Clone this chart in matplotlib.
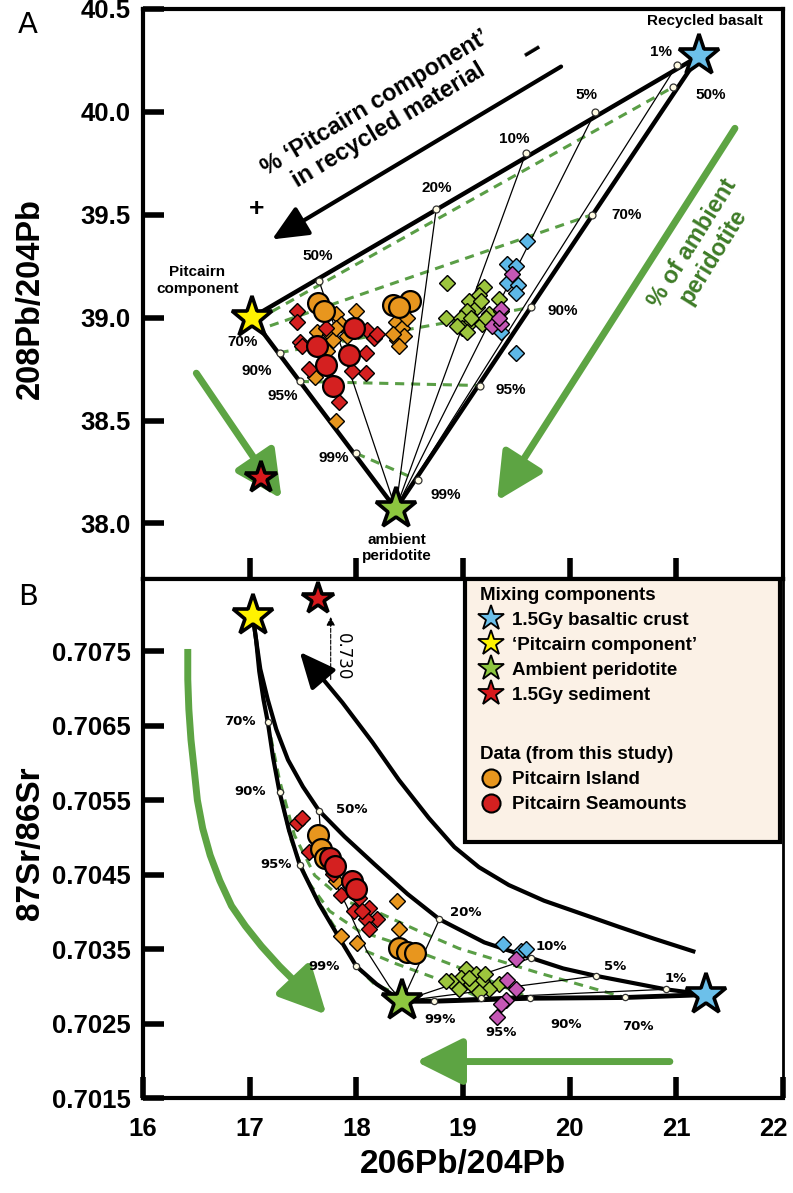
import matplotlib
matplotlib.use('Agg')
import matplotlib.pyplot as plt
from matplotlib.lines import Line2D
from matplotlib.patches import Rectangle
from matplotlib.transforms import ScaledTranslation

plt.rcParams['font.family'] = ['Liberation Sans', 'DejaVu Sans']
plt.rcParams['font.weight'] = 'bold'

# colours
c_orange = '#e8961e'
c_red = '#d42020'
c_lime = '#9dc53d'
c_blue = '#5db8e8'
c_mag = '#c557b5'
c_arrow = '#5da443'
c_dash = '#5a9e46'
c_gtext = '#3e7b27'

# end members: recycled basalt, Pitcairn component, ambient peridotite, sediment
end_names = ['1.5Gy basaltic crust', '\u2018Pitcairn component\u2019', 'Ambient peridotite', '1.5Gy sediment']
end_colors = ['#6cc0ea', '#fff200', '#8dc63f', '#d7191c']

# ---------------- panel A: 208Pb/204Pb ----------------
endA_x = [21.21, 17.02, 18.37, 17.11]
endA_y = [40.27, 39.00, 38.07, 38.22]

# ticks on Pitcairn - basalt line (50, 20, 10, 5, 1 %)
topA_x = [17.65, 18.75, 19.59, 20.24, 21.01]
topA_y = [39.18, 39.53, 39.80, 40.00, 40.23]
# ticks on Pitcairn - peridotite line (90, 95, 99 %)
leftA_x = [17.28, 17.47, 18.00]
leftA_y = [38.83, 38.69, 38.34]
# ticks on basalt - peridotite line (50, 70, 90, 95, 99 %)
rightA_x = [20.97, 20.21, 19.64, 19.16, 18.58]
rightA_y = [40.12, 39.50, 39.05, 38.67, 38.21]
# iso-peridotite dashed lines, left end -> right end
dashA_x0 = [17.21, 17.19, 17.28, 17.47, 18.00]
dashA_y0 = [39.03, 38.96, 38.83, 38.69, 38.34]
dashA_x1 = [20.97, 20.21, 19.64, 19.16, 18.58]
dashA_y1 = [40.12, 39.50, 39.05, 38.67, 38.21]

# data, panel A
A_isl_circ_x = [17.64, 17.70, 18.34, 18.50, 18.40]
A_isl_circ_y = [39.07, 39.03, 39.06, 39.08, 39.05]
A_smt_circ_x = [17.98, 17.63, 17.72, 17.93, 17.78]
A_smt_circ_y = [38.95, 38.86, 38.77, 38.82, 38.67]
A_isl_dia_x = [18.00, 17.81, 17.86, 17.63, 17.75, 17.78, 17.73, 17.61, 17.91, 17.81,
               18.37, 18.43, 18.38, 18.45, 18.40, 18.34, 18.48, 17.81]
A_isl_dia_y = [39.03, 39.02, 38.97, 38.93, 38.92, 38.89, 38.84, 38.71, 38.91, 38.95,
               38.98, 38.95, 38.89, 38.91, 38.86, 38.92, 39.00, 38.50]
A_smt_dia_x = [17.44, 17.44, 17.47, 17.72, 17.56, 18.10, 18.17, 18.09, 18.09, 17.96, 17.84, 18.19, 17.49]
A_smt_dia_y = [39.03, 38.98, 38.88, 38.95, 38.75, 38.94, 38.90, 38.83, 38.73, 38.74, 38.59, 38.92, 38.86]
A_lime_x = [18.85, 18.84, 19.20, 19.15, 19.06, 19.13, 19.04, 18.98, 19.06, 18.99,
            19.04, 19.18, 19.24, 19.34, 19.36, 19.17, 19.08, 18.94, 19.22]
A_lime_y = [39.17, 39.00, 39.15, 39.11, 39.08, 39.05, 39.03, 39.00, 38.97, 38.95,
            38.93, 38.97, 39.02, 39.09, 39.03, 39.08, 39.00, 38.96, 39.00]
A_blue_x = [19.60, 19.41, 19.50, 19.41, 19.52, 19.50, 19.36, 19.50]
A_blue_y = [39.37, 39.26, 39.25, 39.17, 39.16, 39.12, 38.93, 38.83]
A_mag_x = [19.46, 19.36, 19.27, 19.36, 19.34]
A_mag_y = [39.21, 39.04, 38.96, 38.97, 39.00]

# ---------------- panel B: 87Sr/86Sr ----------------
endB_x = [21.28, 17.03, 18.43, 17.64]
endB_y = [0.70289, 0.70797, 0.70280, 0.70820]

# Pitcairn - peridotite curve
curB_left_x = [17.03, 17.06, 17.09, 17.13, 17.17, 17.22, 17.28, 17.37, 17.47, 17.65, 17.84, 18.00, 18.19, 18.43]
curB_left_y = [0.70797, 0.70766, 0.70723, 0.70685, 0.70655, 0.70607, 0.70561, 0.70509, 0.70463,
               0.70411, 0.70365, 0.70327, 0.70303, 0.70280]
# Pitcairn - basalt curve
curB_mid_x = [17.03, 17.06, 17.10, 17.17, 17.25, 17.36, 17.50, 17.65, 17.89, 18.17, 18.48, 18.78,
              19.20, 19.64, 19.94, 20.25, 20.90, 21.28]
curB_mid_y = [0.70797, 0.70766, 0.70726, 0.70685, 0.70645, 0.70604, 0.70568, 0.70536, 0.70501,
              0.70464, 0.70424, 0.70390, 0.70359, 0.70338, 0.70324, 0.70314, 0.70296, 0.70289]
# peridotite - basalt curve
curB_bot_x = [18.43, 18.73, 19.17, 19.63, 20.52, 21.11, 21.28]
curB_bot_y = [0.70280, 0.70280, 0.70282, 0.70284, 0.70285, 0.70288, 0.70289]
# sediment mixing curve (arrow towards sediment)
curB_sed_x = [17.47, 17.65, 17.87, 18.15, 18.40, 18.68, 18.92, 19.15, 19.43, 19.76, 20.08, 20.46, 20.79, 21.16]
curB_sed_y = [0.70749, 0.70719, 0.70681, 0.70628, 0.70577, 0.70526, 0.70487, 0.70460, 0.70436,
              0.70415, 0.70399, 0.70380, 0.70364, 0.70347]
# thin curve peridotite -> 50 %
curB_thin_x = [17.65, 17.67, 17.77, 17.91, 18.10, 18.31, 18.43]
curB_thin_y = [0.70536, 0.70496, 0.70449, 0.70408, 0.70347, 0.70300, 0.70280]

# ticks
midB_x = [17.65, 18.78, 19.64, 20.25, 20.90]            # 50, 20, 10, 5, 1 %
midB_y = [0.70536, 0.70390, 0.70338, 0.70314, 0.70296]
leftB_x = [17.17, 17.28, 17.47, 18.00]                   # 70, 90, 95, 99 %
leftB_y = [0.70655, 0.70561, 0.70463, 0.70327]
botB_x = [18.73, 19.17, 19.63, 20.52]                    # 99, 95, 90, 70 %
botB_y = [0.70280, 0.70284, 0.70284, 0.70285]

# dashed iso-peridotite curves
dB70_x = [17.17, 17.28, 17.42, 17.61, 17.89, 18.21, 18.59, 18.96, 19.71, 20.52]
dB70_y = [0.70655, 0.70577, 0.70503, 0.70449, 0.70415, 0.70399, 0.70374, 0.70351, 0.70318, 0.70285]
dB90_x = [17.28, 17.39, 17.54, 17.75, 18.03, 18.31, 18.68, 19.06, 19.63]
dB90_y = [0.70561, 0.70496, 0.70442, 0.70401, 0.70374, 0.70361, 0.70341, 0.70320, 0.70284]
dB95_x = [17.47, 17.61, 17.79, 18.03, 18.36, 18.78, 19.17]
dB95_y = [0.70464, 0.70422, 0.70381, 0.70351, 0.70331, 0.70309, 0.70284]
dB99_x = [18.00, 18.17, 18.40, 18.73]
dB99_y = [0.70327, 0.70303, 0.70289, 0.70280]

# data, panel B
B_isl_circ_x = [17.64, 17.67, 17.71, 18.40, 18.48, 18.55]
B_isl_circ_y = [0.70503, 0.70485, 0.70472, 0.70351, 0.70346, 0.70345]
B_smt_circ_x = [17.75, 17.80, 17.96, 18.00]
B_smt_circ_y = [0.70472, 0.70461, 0.70442, 0.70431]
B_smt_dia_x = [17.44, 17.49, 17.56, 17.78, 17.86, 17.98, 18.03, 18.12, 18.19, 18.09, 18.12, 18.05]
B_smt_dia_y = [0.70519, 0.70526, 0.70480, 0.70451, 0.70422, 0.70401, 0.70418, 0.70405, 0.70391,
               0.70391, 0.70377, 0.70401]
B_isl_dia_x = [18.38, 18.40, 17.86, 18.01, 17.81]
B_isl_dia_y = [0.70415, 0.70377, 0.70368, 0.70358, 0.70442]
B_lime_x = [19.03, 18.98, 18.89, 19.12, 19.18, 19.21, 19.08, 19.34, 19.24, 19.15, 18.96, 19.06, 18.84]
B_lime_y = [0.70323, 0.70311, 0.70307, 0.70316, 0.70307, 0.70316, 0.70303, 0.70303, 0.70296,
            0.70293, 0.70297, 0.70311, 0.70307]
B_blue_x = [19.38, 19.54, 19.59]
B_blue_y = [0.70357, 0.70347, 0.70350]
B_mag_x = [19.50, 19.41, 19.50, 19.40, 19.36, 19.32]
B_mag_y = [0.70337, 0.70309, 0.70296, 0.70282, 0.70276, 0.70259]

# green guide arrow in panel B (curved)
arr_x = [16.42, 16.42, 16.43, 16.45, 16.48, 16.51, 16.56, 16.63, 16.72, 16.83, 16.96, 17.11, 17.28, 17.47, 17.72]
arr_y = [0.70753, 0.70712, 0.70672, 0.70631, 0.70591, 0.70550, 0.70512, 0.70476, 0.70442, 0.70408,
         0.70381, 0.70354, 0.70327, 0.70300, 0.70262]


def diamonds(ax, x, y, color, ms=8.5):
    ax.plot(x, y, 'D', ms=ms, mfc=color, mec='black', mew=1.0, ls='none', zorder=4)


def circles(ax, x, y, color, ms=14):
    ax.plot(x, y, 'o', ms=ms, mfc=color, mec='black', mew=1.6, ls='none', zorder=5)


def ticks(ax, x, y, ms=5):
    ax.plot(x, y, 'o', ms=ms, mfc='#fffbe3', mec='#333333', mew=0.9, ls='none', zorder=6)


def green_arrow(ax, xy0, xy1, lw=5, scale=22):
    ax.annotate('', xy=xy1, xytext=xy0,
                arrowprops=dict(arrowstyle='-|>,head_length=1.3,head_width=0.65', lw=lw,
                                color=c_arrow, shrinkA=0, shrinkB=0, mutation_scale=scale),
                zorder=3)


fig = plt.figure(figsize=(7.93, 11.93), dpi=100)
axA = fig.add_axes([0.1803, 0.5147, 0.807, 0.4778])
axB = fig.add_axes([0.1803, 0.0796, 0.807, 0.4351])

for ax in (axA, axB):
    for s in ax.spines.values():
        s.set_linewidth(3)
    ax.set_xlim(16, 22)
    ax.tick_params(direction='in', length=15, width=4, labelsize=18.5, pad=9)

# ----- panel A drawing -----
axA.set_ylim(37.73, 40.5)
axA.set_yticks([38.0, 38.5, 39.0, 39.5, 40.0, 40.5])
axA.set_yticklabels(['38.0', '38.5', '39.0', '39.5', '40.0', '40.5'])
axA.set_xticks([17, 18, 19, 20, 21])
axA.tick_params(axis='x', labelbottom=False)

# dashed iso lines
for i in range(len(dashA_x0)):
    axA.plot([dashA_x0[i], dashA_x1[i]], [dashA_y0[i], dashA_y1[i]], color=c_dash,
             lw=2.2, dashes=(3, 2.2), zorder=2)
# thin lines peridotite -> top ticks
for i in range(len(topA_x)):
    axA.plot([endA_x[2], topA_x[i]], [endA_y[2], topA_y[i]], color='black', lw=0.9, zorder=2)
# thick triangle
bas, pit, per = 0, 1, 2
for a, b in [(pit, bas), (pit, per), (bas, per)]:
    axA.plot([endA_x[a], endA_x[b]], [endA_y[a], endA_y[b]], color='black', lw=3.2, zorder=3)

diamonds(axA, A_lime_x, A_lime_y, c_lime)
diamonds(axA, A_blue_x, A_blue_y, c_blue)
diamonds(axA, A_mag_x, A_mag_y, c_mag)
diamonds(axA, A_isl_dia_x, A_isl_dia_y, c_orange, ms=8)
diamonds(axA, A_smt_dia_x, A_smt_dia_y, c_red, ms=8)
circles(axA, A_isl_circ_x, A_isl_circ_y, c_orange, ms=15)
circles(axA, A_smt_circ_x, A_smt_circ_y, c_red, ms=15)

ticks(axA, topA_x, topA_y)
ticks(axA, leftA_x, leftA_y)
ticks(axA, rightA_x, rightA_y)

for i in range(4):
    ms = 24 if i == 3 else 31
    axA.plot(endA_x[i], endA_y[i], '*', ms=ms, mfc=end_colors[i], mec='black', mew=2.6, zorder=8)

pct_kw = dict(fontsize=11, ha='center', va='center', zorder=7)
labA = [('50%', 17.64, 39.30), ('20%', 18.75, 39.63), ('10%', 19.48, 39.87), ('5%', 20.16, 40.08),
        ('1%', 20.86, 40.29), ('50%', 21.32, 40.08), ('70%', 20.53, 39.50), ('90%', 19.94, 39.03),
        ('95%', 19.45, 38.65), ('99%', 18.84, 38.14), ('70%', 16.93, 38.88), ('90%', 17.07, 38.74),
        ('95%', 17.31, 38.62), ('99%', 17.79, 38.32)]
for t, x, y in labA:
    axA.text(x, y, t, **pct_kw)

axA.text(21.27, 40.44, 'Recycled basalt', fontsize=11, ha='center', va='center')
axA.text(16.51, 39.18, 'Pitcairn\ncomponent', fontsize=11, ha='center', va='center', linespacing=1.25)
axA.text(18.38, 37.88, 'ambient\nperidotite', fontsize=11, ha='center', va='center', linespacing=1.25)

axA.text(18.24, 39.99, '% \u2018Pitcairn component\u2019\nin recycled material', fontsize=17,
         rotation=31, ha='center', va='center', rotation_mode='anchor', linespacing=1.15)
axA.text(17.07, 39.53, '+', fontsize=19, ha='center', va='center')
axA.text(19.66, 40.29, '\u2212', fontsize=24, ha='center', va='center', rotation=31)
axA.annotate('', xy=(17.21, 39.38), xytext=(19.92, 40.22),
             arrowprops=dict(arrowstyle='-|>,head_length=1.0,head_width=0.45', lw=3,
                             color='black', shrinkA=0, shrinkB=0, mutation_scale=22))

axA.text(21.25, 39.33, '% of ambient\nperidotite', fontsize=17, color=c_gtext, rotation=58,
         ha='center', va='center', rotation_mode='anchor', linespacing=1.1)
green_arrow(axA, (16.50, 38.73), (17.30, 38.12))
green_arrow(axA, (21.55, 39.92), (19.32, 38.11))

# ----- panel B drawing -----
axB.set_ylim(0.7015, 0.70847)
yt = [0.7015, 0.7025, 0.7035, 0.7045, 0.7055, 0.7065, 0.7075]
axB.set_yticks(yt)
axB.set_yticklabels(['%.4f' % v for v in yt])
axB.set_xticks([16, 17, 18, 19, 20, 21, 22])
axB.set_xticklabels(['16', '17', '18', '19', '20', '21', '22'])
axB.tick_params(axis='x', pad=14)
axB.spines['right'].set_linewidth(2)
last = axB.get_xticklabels()[-1]
last.set_transform(last.get_transform() + ScaledTranslation(-7 / 72, 0, fig.dpi_scale_trans))

for dx, dy in [(dB70_x, dB70_y), (dB90_x, dB90_y), (dB95_x, dB95_y), (dB99_x, dB99_y)]:
    axB.plot(dx, dy, color=c_dash, lw=2.2, dashes=(3, 2.2), zorder=2)
axB.plot(curB_thin_x, curB_thin_y, color='black', lw=0.9, zorder=2)
for i in range(1, len(midB_x)):
    axB.plot([endB_x[2], midB_x[i]], [endB_y[2], midB_y[i]], color='black', lw=0.9, zorder=2)

axB.plot(curB_left_x, curB_left_y, color='black', lw=3, zorder=3)
axB.plot(curB_mid_x, curB_mid_y, color='black', lw=3, zorder=3)
axB.plot(curB_bot_x, curB_bot_y, color='black', lw=3.5, zorder=3)
axB.plot(curB_sed_x[1:], curB_sed_y[1:], color='black', lw=3, zorder=3)
axB.annotate('', xy=(curB_sed_x[0], curB_sed_y[0]), xytext=(curB_sed_x[1], curB_sed_y[1]),
             arrowprops=dict(arrowstyle='-|>,head_length=1.0,head_width=0.45', lw=3,
                             color='black', shrinkA=0, shrinkB=0, mutation_scale=22))

diamonds(axB, B_lime_x, B_lime_y, c_lime)
diamonds(axB, B_blue_x, B_blue_y, c_blue)
diamonds(axB, B_mag_x, B_mag_y, c_mag)
diamonds(axB, B_isl_dia_x, B_isl_dia_y, c_orange, ms=8)
diamonds(axB, B_smt_dia_x, B_smt_dia_y, c_red, ms=8)
circles(axB, B_isl_circ_x, B_isl_circ_y, c_orange, ms=15)
circles(axB, B_smt_circ_x, B_smt_circ_y, c_red, ms=15)

ticks(axB, midB_x, midB_y, ms=4.5)
ticks(axB, leftB_x, leftB_y, ms=4.5)
ticks(axB, botB_x, botB_y, ms=4.5)

for i in range(4):
    ms = 24 if i == 3 else 31
    axB.plot(endB_x[i], endB_y[i], '*', ms=ms, mfc=end_colors[i], mec='black', mew=2.6, zorder=8)

pctB_kw = dict(fontsize=9.5, ha='center', va='center', family='DejaVu Sans', zorder=7)
labB = [('70%', 16.91, 0.70655), ('90%', 17.00, 0.70561), ('95%', 17.25, 0.70464),
        ('99%', 17.70, 0.70326), ('50%', 17.96, 0.70538), ('20%', 19.03, 0.70399),
        ('10%', 19.83, 0.70353), ('5%', 20.43, 0.70327), ('1%', 20.99, 0.70311),
        ('99%', 18.79, 0.70255), ('95%', 19.36, 0.70238), ('90%', 19.97, 0.70249),
        ('70%', 20.64, 0.70246)]
for t, x, y in labB:
    axB.text(x, y, t, **pctB_kw)

axB.annotate('', xy=(17.76, 0.70796), xytext=(17.76, 0.70712),
             arrowprops=dict(arrowstyle='-|>,head_length=0.5,head_width=0.25', lw=0.8,
                             ls='--', color='black', shrinkA=0, shrinkB=0, mutation_scale=10))
axB.text(17.87, 0.70743, '0.730', fontsize=12, fontweight='normal', family='DejaVu Sans',
         rotation=270, ha='center', va='center')

# green arrows
axB.plot(arr_x[:-1], arr_y[:-1], color=c_arrow, lw=5, zorder=3, solid_capstyle='butt')
green_arrow(axB, (arr_x[-2], arr_y[-2]), (arr_x[-1], arr_y[-1]))
green_arrow(axB, (20.94, 0.70199), (18.56, 0.70199))

# legend box
axB.add_patch(Rectangle((0.503, 0.494), 0.492, 0.506, transform=axB.transAxes,
                        facecolor='#fbf1e6', edgecolor='black', lw=3, zorder=9))
h1 = [Line2D([], [], ls='none', marker='*', ms=19, mfc=c, mec='black', mew=1.3) for c in end_colors]
leg1 = axB.legend(h1, end_names, loc='upper left', bbox_to_anchor=(0.527, 0.985), frameon=False,
                  title='Mixing components', alignment='left', fontsize=13.5,
                  title_fontproperties={'weight': 'bold', 'size': 13.5}, handlelength=1.2,
                  handletextpad=0.5, labelspacing=0.42, borderpad=0, borderaxespad=0)
leg1.set_zorder(10)
axB.add_artist(leg1)
h2 = [Line2D([], [], ls='none', marker='o', ms=13, mfc=c, mec='black', mew=1.5) for c in (c_orange, c_red)]
leg2 = axB.legend(h2, ['Pitcairn Island', 'Pitcairn Seamounts'], loc='upper left',
                  bbox_to_anchor=(0.527, 0.678), frameon=False, title='Data (from this study)',
                  alignment='left', fontsize=13.5, title_fontproperties={'weight': 'bold', 'size': 13.5},
                  handlelength=1.2, handletextpad=0.5, labelspacing=0.42, borderpad=0, borderaxespad=0)
leg2.set_zorder(10)

# labels
fig.text(0.0227, 0.979, 'A', fontsize=21, fontweight='normal', family='DejaVu Sans', va='center')
fig.text(0.0227, 0.4996, 'B', fontsize=21, fontweight='normal', family='DejaVu Sans', va='center')
fig.text(0.038, 0.750, '208Pb/204Pb', fontsize=23.5, rotation=90, ha='center', va='center')
fig.text(0.038, 0.2934, '87Sr/86Sr', fontsize=24, rotation=90, ha='center', va='center')
fig.text(0.584, 0.0235, '206Pb/204Pb', fontsize=24, ha='center', va='center')

fig.savefig('out.png', dpi=100)
